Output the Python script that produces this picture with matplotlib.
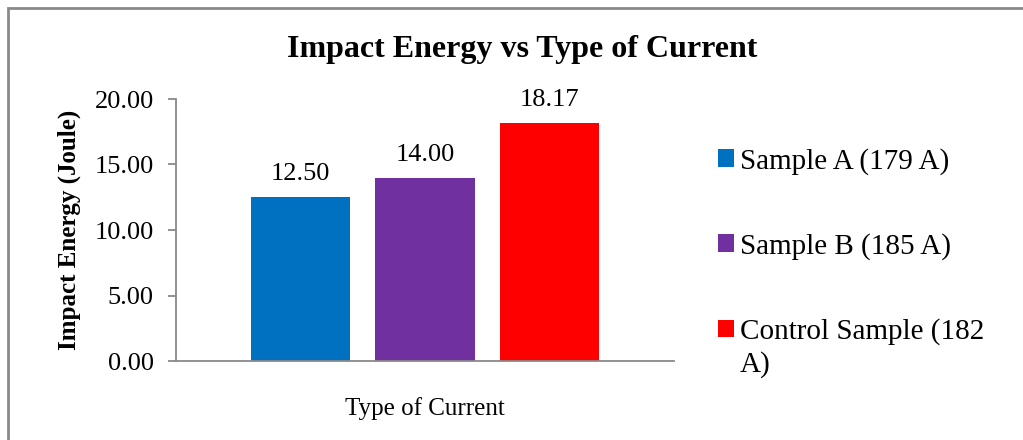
import matplotlib.pyplot as plt
from matplotlib.patches import Rectangle

plt.rcParams['font.family'] = ['Liberation Serif', 'DejaVu Serif']

samples = ['Sample A (179 A)', 'Sample B (185 A)', 'Control Sample (182']
label_wrap = 'A)'
energy = [12.50, 14.00, 18.17]
colors = ['#0070C0', '#7030A0', '#FF0000']
positions = [-1, 0, 1]
yticks = [0, 5, 10, 15, 20]

fig = plt.figure(figsize=(10.23, 4.4), dpi=100)
ax = fig.add_axes([176 / 1023, 79 / 440, 498 / 1023, 262 / 440])

for x, v, c, lab in zip(positions, energy, colors, samples):
    ax.bar(x, v, width=0.8, color=c, label=lab)
    ax.text(x, v + 0.9, f'{v:.2f}', ha='center', va='bottom', fontsize=19)

ax.set_xlim(-2, 2)
ax.set_ylim(0, 20)
ax.set_yticks(yticks)
ax.set_yticklabels([f'{t:.2f}' for t in yticks], fontsize=19)
ax.set_xticks([])
ax.set_xlabel('Type of Current', fontsize=18, labelpad=26)
ax.set_ylabel('Impact Energy (Joule)', fontsize=18, fontweight='bold', labelpad=10)
ax.tick_params(axis='y', length=6, width=1.3, color='#898989', pad=10)
for s in ['top', 'right']:
    ax.spines[s].set_visible(False)
for s in ['left', 'bottom']:
    ax.spines[s].set_color('#898989')
    ax.spines[s].set_linewidth(1.3)

fig.text(522 / 1023, 1 - 50 / 440, 'Impact Energy vs Type of Current', ha='center', va='center',
         fontsize=23, fontweight='bold')

leg = fig.legend(loc='upper left', bbox_to_anchor=(706 / 1023, 1 - 136 / 440), frameon=False,
                 fontsize=21, handlelength=0.55, handleheight=0.55, handletextpad=0.2,
                 labelspacing=2.0, borderaxespad=0)
fig.text(740 / 1023, 1 - 365 / 440, label_wrap, ha='left', va='center', fontsize=21)

fig.patches.append(Rectangle((8 / 1023, -0.1), 1.2, 1.1 - 8 / 440, transform=fig.transFigure,
                             fill=False, edgecolor='#8a8a8a', linewidth=2))

fig.savefig('out.png', dpi=100)
